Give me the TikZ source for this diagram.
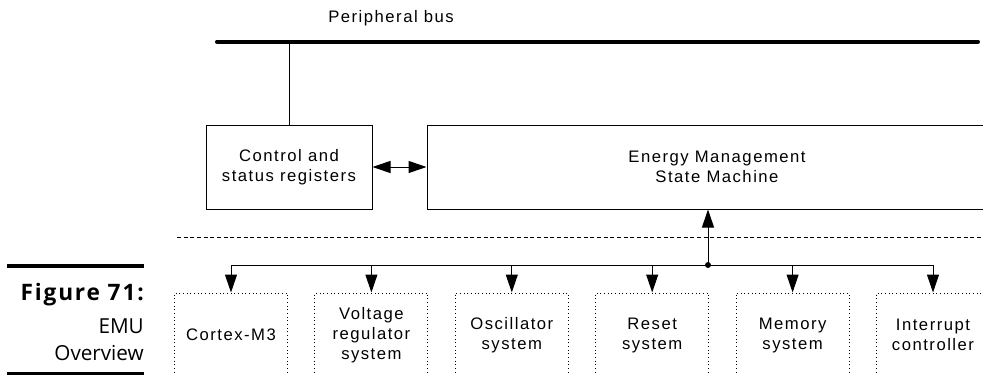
\documentclass[tikz,border=0pt]{standalone}
\usepackage{fontspec}
\setmainfont{Liberation Sans}
\newfontfamily\capfont{Open Sans}
\usetikzlibrary{arrows.meta,positioning}
\tikzset{
  blk/.style={draw, line width=0.75pt, align=center, inner sep=0pt,
    font=\fontsize{12.5}{15}\selectfont\addfontfeatures{LetterSpace=9}},
  sub/.style={blk, dotted, minimum width=84.75pt, minimum height=63pt},
  tri/.tip={Triangle[length=13.5pt,width=9pt]},
  arrowdn/.style={-tri, line width=0.75pt},
}
\begin{document}
\begin{tikzpicture}[x=0.75pt,y=-0.75pt]
  \useasboundingbox (0,0) rectangle (983,375);
  \clip (0,0) rectangle (983,375);
  % peripheral bus
  \coordinate (busL) at (217,41.5);
  \coordinate (busR) at (978,41.5);
  \draw[line width=3pt, line cap=round] (busL) -- (busR);
  \node[blk, draw=none] (buslbl) at (391,18) {Peripheral bus};
  % registers and state machine
  \node[blk, minimum width=124.5pt, minimum height=63pt] (csr) at (289,167)
    {Control and\\status registers};
  \node[blk, minimum width=435pt, minimum height=63pt] (emsm) at (717,167)
    {Energy Management\\State Machine};
  \draw (csr.north) -- (csr.north |- busL);
  \draw[tri-tri, line width=0.75pt] (csr.east) -- (emsm.west);
  % boundary
  \coordinate (dashL) at (177,237);
  \coordinate (dashR) at (990,237);
  \draw[line width=0.75pt, dash pattern=on 3pt off 2pt] (dashL) -- (dashR);
  % subsystems
  \foreach \n/\txt [count=\i from 0] in {cm3/Cortex-M3,
      vreg/Voltage\\regulator\\system, osc/Oscillator\\system,
      rst/Reset\\system, mem/Memory\\system, irq/Interrupt\\controller}{
    \node[sub] (\n) at (231+140.4*\i,335) {\txt};
  }
  \coordinate (j) at (708,265);
  \draw[line width=0.75pt] (cm3.north |- j) -- (irq.north |- j);
  \foreach \n in {cm3,vreg,osc,rst,mem,irq}
    \draw[arrowdn] (\n.north |- j) -- (\n.north);
  \fill (j) circle (3);
  \draw[arrowdn] (j) -- (j |- emsm.south);
  % caption
  \draw[line width=3pt] (7,266) -- (144,266);
  \draw[line width=3pt] (7,374) -- (144,374);
  \node[anchor=east, inner sep=0pt, align=right,
    font=\capfont\bfseries\fontsize{17}{19}\selectfont\addfontfeatures{LetterSpace=8}]
    (fig) at (144,295) {Figure 71:};
  \node[anchor=north east, inner sep=0pt, align=right,
    font=\capfont\fontsize{15.5}{20.5}\selectfont] (cap) at (144,318) {EMU\\Overview};
\end{tikzpicture}
\end{document}
